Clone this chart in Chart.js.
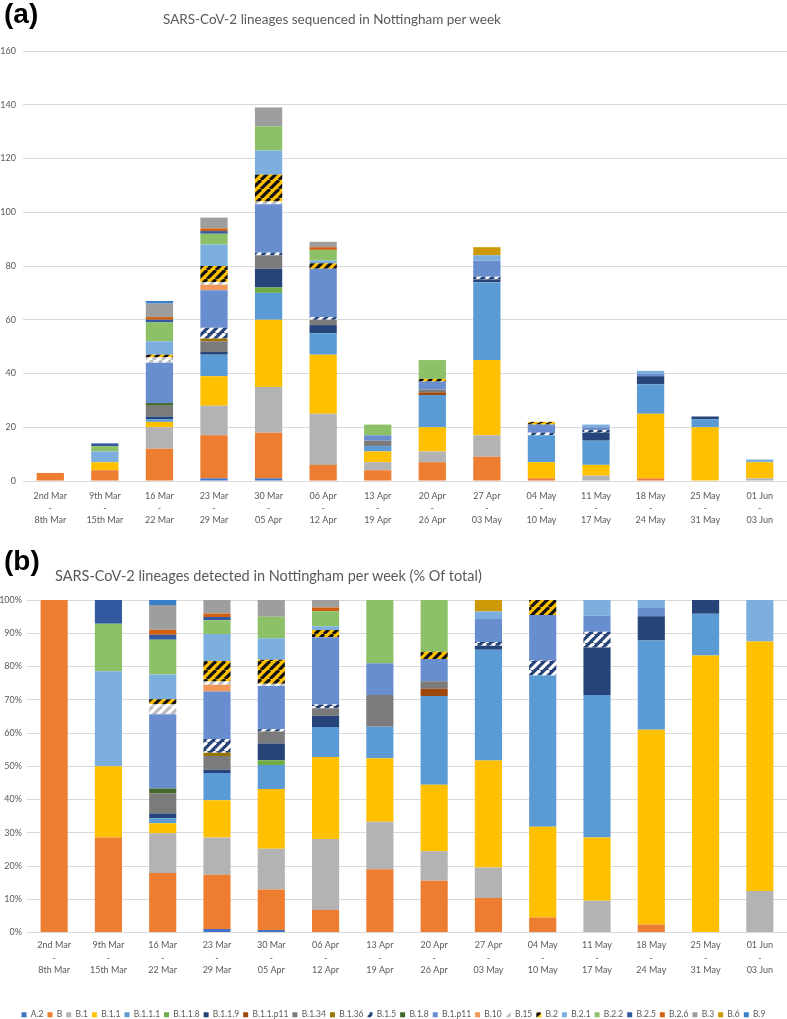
<!DOCTYPE html>
<html lang="en">
  <head>
    <meta charset="UTF-8" />
    <title>SARS-CoV-2 lineages in Nottingham</title>
    <script src="https://cdn.jsdelivr.net/npm/chart.js"></script>
    <style>
      html, body { margin: 0; padding: 0; background: #fff; overflow: hidden; }
      #wrap { position: relative; width: 787px; height: 1019px; }
      .panel { position: absolute; left: 4px; font: bold 28px 'Liberation Sans', Arial, sans-serif; line-height: 28px; color: #000; }
      .ttl { position: absolute; font: 13.5px Lato, sans-serif; line-height: 16px; color: #595959; white-space: nowrap; }
      canvas { position: absolute; left: 0; }
    </style>
  </head>
  <body>
    <div id="wrap">
      <canvas id="chartA" width="787" height="535" style="top:0"></canvas>
      <canvas id="chartB" width="787" height="500" style="top:535px"></canvas>
      <div class="panel" style="top:0">(a)</div>
      <div class="ttl" style="top:11px; left:163px">SARS-CoV-2 lineages sequenced in Nottingham per week</div>
      <div class="panel" style="top:547px">(b)</div>
      <div class="ttl" style="top:568px; left:55px; font-size:14.5px">SARS-CoV-2 lineages detected in Nottingham per week (% Of total)</div>
    </div>

    <script>
      // weeks (x axis)
      const weeks = [
        ['2nd Mar', '-', '8th Mar'],
        ['9th Mar', '-', '15th Mar'],
        ['16 Mar', '-', '22 Mar'],
        ['23 Mar', '-', '29 Mar'],
        ['30 Mar', '-', '05 Apr'],
        ['06 Apr', '-', '12 Apr'],
        ['13 Apr', '-', '19 Apr'],
        ['20 Apr', '-', '26 Apr'],
        ['27 Apr', '-', '03 May'],
        ['04 May', '-', '10 May'],
        ['11 May', '-', '17 May'],
        ['18 May', '-', '24 May'],
        ['25 May', '-', '31 May'],
        ['01 Jun', '-', '03 Jun'],
      ]

      // sequences per lineage per week
      const A2 = [0, 0, 0, 1, 1, 0, 0, 0, 0, 0, 0, 0, 0, 0]
      const B = [3, 4, 12, 16, 17, 6, 4, 7, 9, 1, 0, 1, 0, 0]
      const B1 = [0, 0, 8, 11, 17, 19, 3, 4, 8, 0, 2, 0, 0, 1]
      const B11 = [0, 3, 2, 11, 25, 22, 4, 9, 28, 6, 4, 24, 20, 6]
      const B111 = [0, 0, 1, 8, 10, 8, 2, 12, 29, 10, 9, 11, 3, 0]
      const B118 = [0, 0, 0, 0, 2, 0, 0, 0, 0, 0, 0, 0, 0, 0]
      const B119 = [0, 0, 1, 1, 7, 3, 0, 0, 1, 0, 3, 3, 1, 0]
      const B11p11 = [0, 0, 0, 0, 0, 0, 0, 1, 0, 0, 0, 0, 0, 0]
      const B134 = [0, 0, 4, 4, 5, 2, 2, 1, 0, 0, 0, 0, 0, 0]
      const B136 = [0, 0, 0, 1, 0, 0, 0, 0, 0, 0, 0, 0, 0, 0]
      const B15 = [0, 0, 0, 4, 1, 1, 0, 0, 1, 1, 1, 0, 0, 0]
      const B18 = [0, 0, 1, 0, 0, 0, 0, 0, 0, 0, 0, 0, 0, 0]
      const B1p11 = [0, 0, 15, 14, 18, 18, 2, 3, 6, 3, 1, 1, 0, 0]
      const B_10 = [0, 0, 0, 2, 0, 0, 0, 0, 0, 0, 0, 0, 0, 0]
      const B_15 = [0, 0, 2, 1, 1, 0, 0, 0, 0, 0, 0, 0, 0, 0]
      const B2 = [0, 0, 1, 6, 10, 2, 0, 1, 0, 1, 0, 0, 0, 0]
      const B21 = [0, 4, 5, 8, 9, 1, 0, 0, 2, 0, 1, 1, 0, 1]
      const B22 = [0, 2, 7, 4, 9, 4, 4, 7, 0, 0, 0, 0, 0, 0]
      const B25 = [0, 1, 1, 1, 0, 0, 0, 0, 0, 0, 0, 0, 0, 0]
      const B26 = [0, 0, 1, 1, 0, 1, 0, 0, 0, 0, 0, 0, 0, 0]
      const B3 = [0, 0, 5, 4, 7, 2, 0, 0, 0, 0, 0, 0, 0, 0]
      const B6 = [0, 0, 0, 0, 0, 0, 0, 0, 3, 0, 0, 0, 0, 0]
      const B9 = [0, 0, 1, 0, 0, 0, 0, 0, 0, 0, 0, 0, 0, 0]

      const lineages = ['A.2', 'B', 'B.1', 'B.1.1', 'B.1.1.1', 'B.1.1.8', 'B.1.1.9', 'B.1.1.p11', 'B.1.34', 'B.1.36', 'B.1.5', 'B.1.8', 'B.1.p11', 'B.10', 'B.15', 'B.2', 'B.2.1', 'B.2.2', 'B.2.5', 'B.2.6', 'B.3', 'B.6', 'B.9']
      const counts = [A2, B, B1, B11, B111, B118, B119, B11p11, B134, B136, B15, B18, B1p11, B_10, B_15, B2, B21, B22, B25, B26, B3, B6, B9]

      // diagonal stripe fill like the excel pattern fills
      function stripes(bg, fg) {
        const c = document.createElement('canvas')
        const s = 9
        c.width = s
        c.height = s
        const ctx = c.getContext('2d')
        ctx.fillStyle = bg
        ctx.fillRect(0, 0, s, s)
        ctx.strokeStyle = fg
        ctx.lineWidth = 3.2
        for (const k of [-s, 0, s]) {
          ctx.beginPath()
          ctx.moveTo(k, s)
          ctx.lineTo(k + s, 0)
          ctx.stroke()
        }
        return ctx.createPattern(c, 'repeat')
      }

      const colors = [
        '#4472C4', '#ED7D31', '#B3B3B3', '#FFC000', '#5B9BD5', '#70AD47',
        '#264478', '#9E480E', '#7B7B7B', '#997300',
        stripes('#264478', '#ffffff'),
        '#43682B', '#698ED0', '#F1975A',
        stripes('#ffffff', '#BDBDBD'),
        stripes('#FFC000', '#111111'),
        '#7CAFDD', '#8CC168', '#335AA1', '#D26012', '#9E9E9E', '#CC9A06', '#3A80C8',
      ]

      // weekly totals -> share of total for panel (b)
      const totals = weeks.map((w, i) => counts.reduce((s, arr) => s + arr[i], 0))

      function makeSets(pct) {
        return lineages.map((name, j) => ({
          label: name,
          data: pct ? counts[j].map((v, i) => (totals[i] ? (v / totals[i]) * 100 : 0)) : counts[j],
          backgroundColor: colors[j],
          borderWidth: 0,
          categoryPercentage: 1,
          barPercentage: 0.5,
        }))
      }

      const tickFont = { family: 'Lato, sans-serif', size: 9 }
      const grey = '#595959'

      function xAxis(h, pad) {
        return {
          stacked: true,
          grid: { display: false, drawTicks: false },
          border: { display: false },
          ticks: {
            color: grey,
            font: { family: 'Lato, sans-serif', size: 9, lineHeight: 1.35 },
            padding: pad,
            maxRotation: 0,
            autoSkip: false,
          },
          afterFit: (s) => { s.height = h },
        }
      }

      new Chart(document.getElementById('chartA'), {
        type: 'bar',
        data: { labels: weeks, datasets: makeSets(false) },
        options: {
          responsive: false,
          animation: false,
          layout: { padding: { top: 51, left: 0, right: 0, bottom: 0 } },
          plugins: { legend: { display: false }, tooltip: { enabled: false } },
          scales: {
            x: xAxis(54, 9),
            y: {
              stacked: true,
              min: 0,
              max: 160,
              ticks: { stepSize: 20, color: grey, font: tickFont, padding: 7 },
              grid: { color: '#D9D9D9', drawTicks: false },
              border: { display: false },
              afterFit: (s) => { s.width = 23 },
            },
          },
        },
      })

      new Chart(document.getElementById('chartB'), {
        type: 'bar',
        data: { labels: weeks, datasets: makeSets(true) },
        options: {
          responsive: false,
          animation: false,
          layout: { padding: { top: 65, left: 0, right: 0, bottom: 6 } },
          plugins: {
            tooltip: { enabled: false },
            legend: {
              position: 'bottom',
              labels: {
                boxWidth: 5,
                boxHeight: 5,
                padding: 4,
                color: grey,
                font: { family: 'Lato, sans-serif', size: 8.5 },
              },
            },
          },
          scales: {
            x: xAxis(74, 7),
            y: {
              stacked: true,
              min: 0,
              max: 100,
              ticks: { stepSize: 10, color: grey, font: tickFont, padding: 5, callback: (v) => v + '%' },
              grid: { color: '#D9D9D9', drawTicks: false },
              border: { display: false },
              afterFit: (s) => { s.width = 27 },
            },
          },
        },
      })
    </script>
  </body>
</html>
